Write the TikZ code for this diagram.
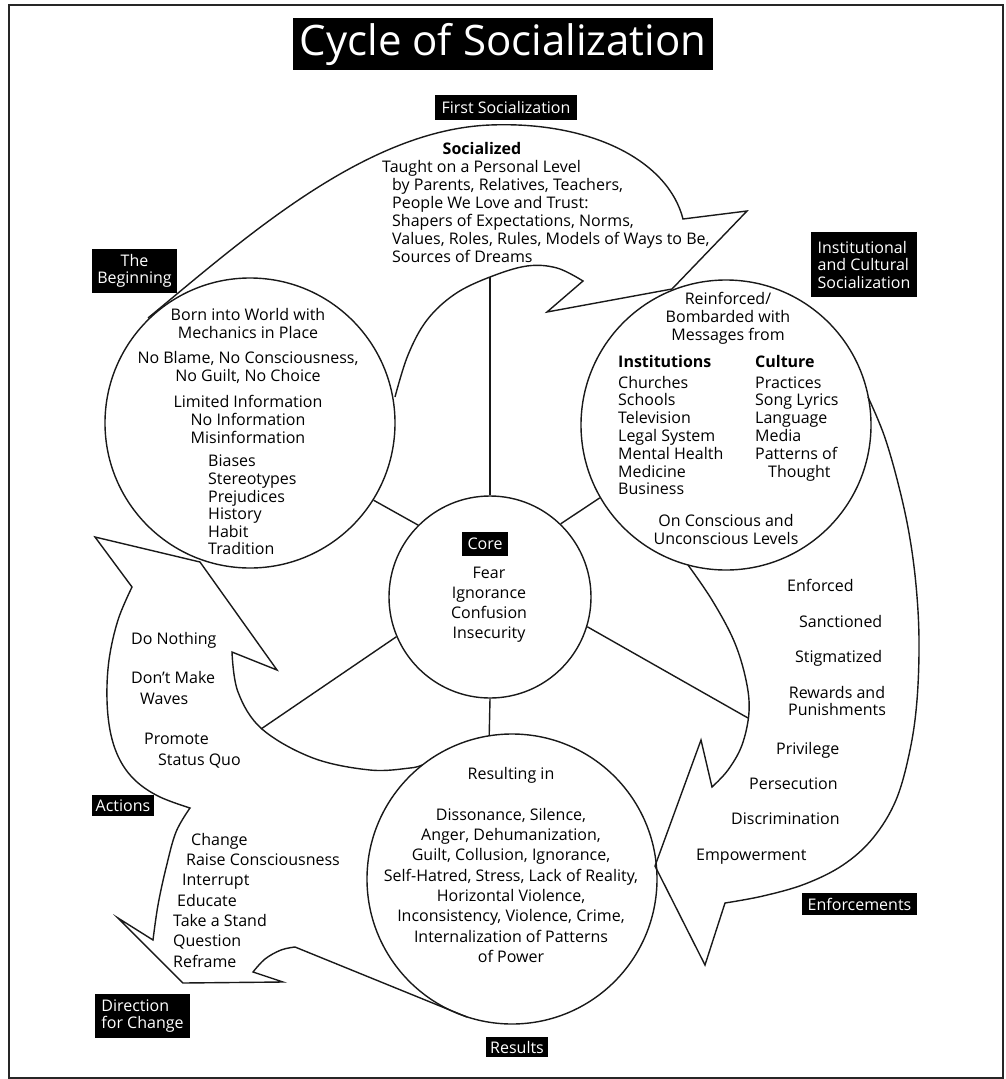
\documentclass[tikz,border=0pt]{standalone}
\usepackage{fontspec}
\setmainfont{Open Sans}
\begin{document}
\begin{tikzpicture}[x=1pt,y=-1pt,
  ln/.style={line width=1.4pt, draw=black!90, line join=miter},
  lbl/.style={fill=black, text=white, inner sep=0pt, align=center, font=\fontsize{16}{17}\selectfont},
  txt/.style={inner sep=0pt, align=center, font=\fontsize{16}{18}\selectfont},
  one/.style={txt, text height=12pt, text depth=4pt},
  ring/.style={circle, draw=black!90, line width=1.4pt, inner sep=0pt}]
\useasboundingbox (0,0) rectangle (1005,1079);
\draw[line width=1.5pt, black!85] (9,5) rectangle (1003,1078);

% ---- big curved arrows ----
% First Socialization (left circle -> right circle)
\draw[ln] (148,318) .. controls (245,238) and (365,130) .. (490,125)
  .. controls (590,121) and (668,160) .. (683,219)
  -- (747,211) -- (672,289) -- (547,312)
  -- plot[smooth, tension=0.6] coordinates {(583,281) (557,268) (527,266) (490,277) (455,294) (427,320) (408,355) (395,397)};
% Enforcements (right circle -> bottom circle)
\draw[ln] plot[smooth, tension=0.6] coordinates {(868,397) (884,435) (898,483) (909,533) (916,585) (919,640) (917,700) (910,750) (896,800) (873,838) (843,865) (805,884) (763,896) (725,903)}
  -- (705,965) -- (655,866) -- (701,740)
  -- plot[smooth, tension=0.6] coordinates {(712,787) (728,770) (742,745) (749,712) (746,680) (734,641) (712,600) (688,565)};
% Actions and Direction for Change (bottom circle -> left circle, and out)
\draw[ln] plot[smooth, tension=0.6] coordinates {(422,765) (410,768) (370,770) (313,758) (262,729) (238,692) (232,652)}
  -- (277,670) -- (200,562) -- (95,537)
  -- plot[smooth, tension=0.6] coordinates {(132,587) (118,620) (109,660) (107,700) (111,735) (121,762) (137,782) (160,797) (190,808)}
  -- plot[smooth, tension=0.6] coordinates {(190,808) (176,832) (166,868) (158,905) (153,940)}
  -- (118,918) -- (183,983) -- (283,982)
  -- plot[smooth, tension=0.6] coordinates {(253,972) (265,959) (281,950) (295,947)}
  -- (467,1017);

% ---- circles ----
\node[ring, minimum size=290pt] (lcirc) at (250,423) {};
\node[ring, minimum size=290pt] (rcirc) at (726,425) {};
\node[ring, minimum size=290pt] (bcirc) at (512,879) {};
\node[ring, minimum size=202pt] (core) at (490,597) {};

% ---- spokes ----
\coordinate (topend) at (490,277);
\coordinate (llend) at (261,729);
\coordinate (lrend) at (748,718);
\draw[ln] (core.90) -- (topend);
\draw[ln] (core.135) -- (lcirc.-32);
\draw[ln] (core.46) -- (rcirc.210);
\draw[ln] (core.203) -- (llend);
\draw[ln] (core.-17) -- (lrend);
\draw[ln] (core.270) -- (bcirc.99);

% ---- labels ----
\node[lbl, minimum width=420pt, minimum height=52pt, font=\fontsize{42}{44}\selectfont] (title) at (503,44) {Cycle of Socialization};
\node[lbl, minimum width=142pt, minimum height=25pt] (firstsoc) at (506,107.5) {First Socialization};
\node[lbl, minimum width=85pt, minimum height=44pt] (beginning) at (134.5,271) {The\\Beginning};
\node[lbl, align=left, minimum width=106pt, minimum height=65pt, font=\fontsize{16}{17.5}\selectfont] (instlbl) at (864,264.5) {Institutional\\and Cultural\\Socialization};
\node[lbl, minimum width=46pt, minimum height=24pt] (corelbl) at (485,544) {Core};
\node[lbl, minimum width=62pt, minimum height=21pt] (actions) at (123,805.5) {Actions};
\node[lbl, align=left, minimum width=95pt, minimum height=44pt] (direction) at (142.5,1016) {Direction\\for Change};
\node[lbl, minimum width=62pt, minimum height=20pt] (results) at (517,1047) {Results};
\node[lbl, minimum width=115pt, minimum height=22pt] (enforcements) at (859.5,904) {Enforcements};

% ---- texts ----
\node[one, font=\bfseries\fontsize{16}{18}\selectfont] (socialized) at (482,150) {Socialized};
\node[txt, align=left, anchor=north west] (taught) at (382,160) {Taught on a Personal Level\\\hspace*{10pt}by Parents, Relatives, Teachers,\\\hspace*{10pt}People We Love and Trust:\\\hspace*{10pt}Shapers of Expectations, Norms,\\\hspace*{10pt}Values, Roles, Rules, Models of Ways to Be,\\\hspace*{10pt}Sources of Dreams};

\node[txt, anchor=north] (born) at (248,308) {Born into World with\\Mechanics in Place\\[7pt]No Blame, No Consciousness,\\No Guilt, No Choice\\[8pt]Limited Information\\No Information\\Misinformation};
\node[txt, align=left, anchor=north west, font=\fontsize{16}{17.6}\selectfont] (biases) at (208,455) {Biases\\Stereotypes\\Prejudices\\History\\Habit\\Tradition};

\node[txt, anchor=north] (reinf) at (728,292) {Reinforced/\\Bombarded with\\Messages from};
\node[txt, align=left, anchor=north west, font=\fontsize{16}{17.8}\selectfont] (inst) at (618,355) {\textbf{Institutions}\\[3pt]Churches\\Schools\\Television\\Legal System\\Mental Health\\Medicine\\Business};
\node[txt, align=left, anchor=north west, font=\fontsize{16}{17.8}\selectfont] (cult) at (755,355) {\textbf{Culture}\\[3pt]Practices\\Song Lyrics\\Language\\Media\\Patterns of\\\hspace*{13pt}Thought};
\node[txt, anchor=north] (levels) at (726,514) {On Conscious and\\Unconscious Levels};

\node[txt, anchor=north, font=\fontsize{16}{20}\selectfont] (fear) at (489,567) {Fear\\Ignorance\\Confusion\\Insecurity};

\node[one, anchor=west] (enforced) at (787,587) {Enforced};
\node[one, anchor=west] (sanctioned) at (799,623) {Sanctioned};
\node[one, anchor=west] (stigmatized) at (795,658) {Stigmatized};
\node[txt, anchor=north, font=\fontsize{16}{17}\selectfont] (rewards) at (837,686) {Rewards and\\Punishments};
\node[one, anchor=west] (privilege) at (776,750) {Privilege};
\node[one, anchor=west] (persecution) at (749,785) {Persecution};
\node[one, anchor=west] (discrimination) at (731,820) {Discrimination};
\node[one, anchor=west] (empowerment) at (696,856) {Empowerment};

\node[one, anchor=west] (donothing) at (131,640) {Do Nothing};
\node[txt, align=left, anchor=north west, font=\fontsize{16}{21}\selectfont] (waves) at (131,671) {Don't Make\\\hspace*{9pt}Waves};
\node[txt, align=left, anchor=north west, font=\fontsize{16}{21}\selectfont] (promote) at (144,733) {Promote\\\hspace*{14pt}Status Quo};

\node[txt, align=left, anchor=north west, font=\fontsize{16}{20.3}\selectfont] (change) at (173,833) {\hspace*{18pt}Change\\\hspace*{13pt}Raise Consciousness\\\hspace*{9pt}Interrupt\\\hspace*{4pt}Educate\\Take a Stand\\Question\\Reframe};

\node[one] (resulting) at (511,775) {Resulting in};
\node[txt, anchor=north, font=\fontsize{16}{20.3}\selectfont] (dissonance) at (511,808) {Dissonance, Silence,\\Anger, Dehumanization,\\Guilt, Collusion, Ignorance,\\Self-Hatred, Stress, Lack of Reality,\\Horizontal Violence,\\Inconsistency, Violence, Crime,\\Internalization of Patterns\\of Power};
\end{tikzpicture}
\end{document}
